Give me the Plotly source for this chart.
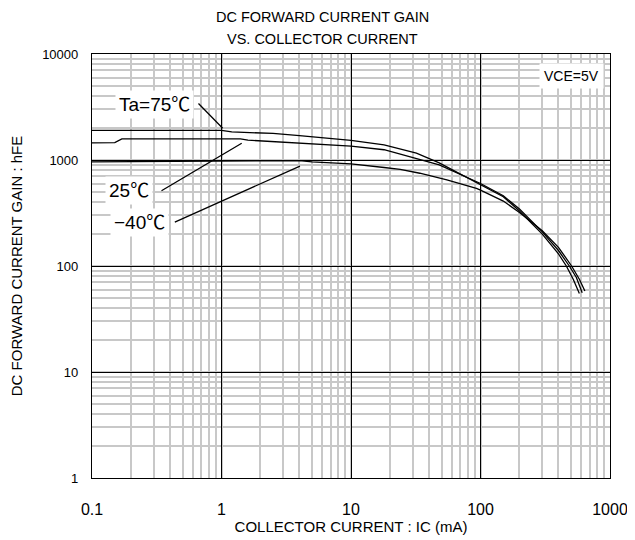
import plotly.graph_objects as go

# ---- data ----
ic_75 = [0.1, 1.0, 1.2, 2.5, 4, 8, 10, 18, 24, 32, 48, 100, 150, 200, 300, 400, 460, 520, 580]
hfe_75 = [1900, 1900, 1840, 1780, 1700, 1580, 1530, 1390, 1260, 1160, 940, 590, 450, 330, 200, 130, 100, 75, 55]

ic_25 = [0.1, 0.15, 0.17, 1.4, 1.6, 4, 10, 18, 24, 32, 48, 100, 150, 200, 300, 400, 485, 550, 610]
hfe_25 = [1450, 1460, 1580, 1580, 1540, 1450, 1350, 1250, 1140, 1040, 900, 600, 460, 345, 210, 140, 100, 78, 56]

ic_m40 = [0.1, 0.2, 4, 5, 10, 18, 24, 34, 55, 93, 100, 150, 200, 300, 400, 505, 580, 640]
hfe_m40 = [960, 965, 985, 960, 920, 850, 815, 750, 650, 540, 520, 410, 320, 215, 150, 100, 75, 58]

x_ticks = [0.1, 1, 10, 100, 1000]
x_tick_text = ["0.1", "1", "10", "100", "1000"]
y_ticks = [1, 10, 100, 1000, 10000]
y_tick_text = ["1", "10", "100", "1000", "10000"]

labels = ["Ta=75℃", "25℃", "−40℃"]
# label text centres and leader lines (log10 axis units)
label_pos = [(-0.521, 3.524), (-0.714, 2.717), (-0.637, 2.415)]
leader_tail = [(-0.189, 3.547), (-0.475, 2.701), (-0.372, 2.408)]
leader_tip = [(0.009, 3.299), (0.156, 3.158), (0.606, 2.943)]

FONT = "Liberation Sans, Arial, Noto Sans CJK JP, sans-serif"

fig = go.Figure()
for xs, ys in [(ic_75, hfe_75), (ic_25, hfe_25), (ic_m40, hfe_m40)]:
    fig.add_trace(go.Scatter(x=xs, y=ys, mode="lines",
                             line=dict(color="black", width=1.3),
                             showlegend=False, hoverinfo="skip"))

axis_common = dict(
    type="log", showline=True, linecolor="black", linewidth=1.2, mirror=True,
    showgrid=True, gridcolor="black", gridwidth=1, ticks="",
    zeroline=False, automargin=False,
    minor=dict(dtick="D1", showgrid=True, gridcolor="#c8c8c8", gridwidth=1.5, ticks=""),
)

fig.update_xaxes(**axis_common, range=[-1, 3], tickvals=x_ticks, ticktext=x_tick_text,
                 ticklabelstandoff=17,
                 tickfont=dict(family=FONT, size=16, color="black"),
                 title=dict(text="COLLECTOR CURRENT : IC (mA)", standoff=4,
                            font=dict(family=FONT, size=15, color="black")))
fig.update_yaxes(**axis_common, range=[0, 4], tickvals=y_ticks, ticktext=y_tick_text,
                 ticklabelstandoff=10,
                 tickfont=dict(family=FONT, size=13, color="black"),
                 title=dict(text="DC FORWARD CURRENT GAIN : hFE", standoff=18,
                            font=dict(family=FONT, size=15, color="black")))

for txt, (lx, ly), (tx0, ty0), (tx1, ty1) in zip(labels, label_pos, leader_tail, leader_tip):
    fig.add_annotation(x=tx1, y=ty1, xref="x", yref="y", ax=tx0, ay=ty0,
                       axref="x", ayref="y", text="", showarrow=True, arrowhead=0,
                       arrowwidth=1.3, arrowcolor="black", standoff=0, startstandoff=0)
    fig.add_annotation(x=lx, y=ly, xref="x", yref="y", text=txt, showarrow=False,
                       xanchor="center", yanchor="middle", bgcolor="white", borderpad=3,
                       font=dict(family=FONT, size=19, color="black"))

fig.add_annotation(x=(571 - 92) / 518, y=(478 - 76) / 424, xref="paper", yref="paper",
                   text="VCE=5V", showarrow=False, bgcolor="white", borderpad=4,
                   xanchor="center", yanchor="middle",
                   font=dict(family=FONT, size=14, color="black"))

fig.add_annotation(x=(322 - 92) / 518, y=(478 - 17) / 424, xref="paper", yref="paper",
                   text="DC FORWARD CURRENT GAIN", showarrow=False,
                   xanchor="center", yanchor="middle",
                   font=dict(family=FONT, size=14.5, color="black"))
fig.add_annotation(x=(322 - 92) / 518, y=(478 - 39) / 424, xref="paper", yref="paper",
                   text="VS. COLLECTOR CURRENT", showarrow=False,
                   xanchor="center", yanchor="middle",
                   font=dict(family=FONT, size=14.5, color="black"))

# page body adds an 8px margin; size the figure so the plot lands where the reference has it
fig.update_layout(width=627, height=532, margin=dict(l=84, r=25, t=46, b=62),
                  paper_bgcolor="white", plot_bgcolor="white",
                  font=dict(family=FONT, color="black"))

fig.write_html("out.html")
